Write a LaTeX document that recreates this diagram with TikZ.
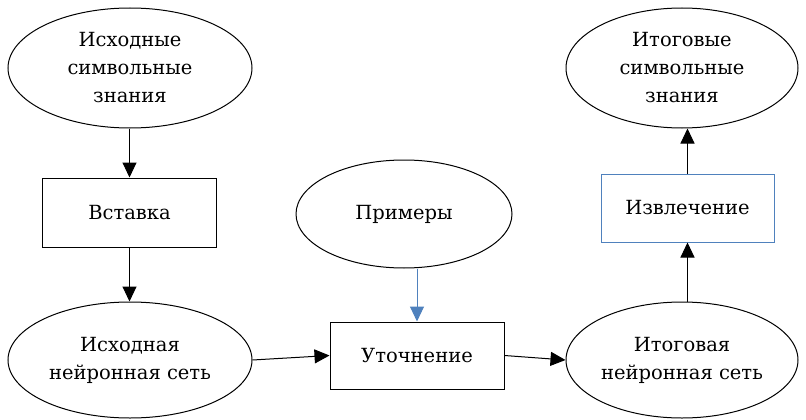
\documentclass[tikz,border=0pt]{standalone}
\usepackage{fontspec}
\setmainfont{DejaVu Serif}
\newfontfamily\ruserif{DejaVu Serif}
\usetikzlibrary{shapes.geometric,arrows.meta}
\definecolor{wordblue}{RGB}{79,129,189}
\begin{document}
\begin{tikzpicture}[x=1pt,y=-1pt,
        every node/.style={font=\ruserif\fontsize{19.5}{28}\selectfont,align=center,inner sep=0pt},
        oval/.style={draw,ellipse,line width=1pt},
        block/.style={draw,rectangle,line width=1pt},
        flow/.style={line width=1pt,-{Triangle[length=15pt,width=14pt]}}]
        \useasboundingbox (0,0) rectangle (806,420);
        % ellipses
        \foreach \nm/\x/\y/\w/\h/\txt in {
        ik/130/68/244/120/{Исходные\\символьные\\знания},
        ins/130/360/244/116/{Исходная\\нейронная сеть},
        prim/404/214/216/108/{Примеры},
        itn/682/360/232/116/{Итоговая\\нейронная сеть},
        itz/682/68/232/120/{Итоговые\\символьные\\знания}}{
            \node[oval,minimum width=\w pt,minimum height=\h pt](\nm) at (\x,\y){\txt};
        }
        % boxes
        \foreach \nm/\x/\y/\w/\h/\txt in {
        vst/129.5/212.5/174/69/{Вставка},
        ut/417/355.5/174/67/{Уточнение}}{
            \node[block,minimum width=\w pt,minimum height=\h pt](\nm) at (\x,\y){\txt};
        }
        \node[block,draw=wordblue,minimum width=173pt,minimum height=68pt](izv) at (687.5,208){Извлечение};
        % connectors
        \draw[flow](vst.north |- ik.south)--(vst.north);
        \draw[flow](vst.south)--(vst.south |- ins.north);
        \draw[flow](ins.east)--(ut.west);
        \draw[flow](ut.east)--(itn.west);
        \draw[flow,wordblue](ut.north |- prim.south)--(ut.north);
        \draw[flow](izv.south |- itn.north)--(izv.south);
        \draw[flow](izv.north)--(izv.north |- itz.south);
    \end{tikzpicture}
\end{document}
